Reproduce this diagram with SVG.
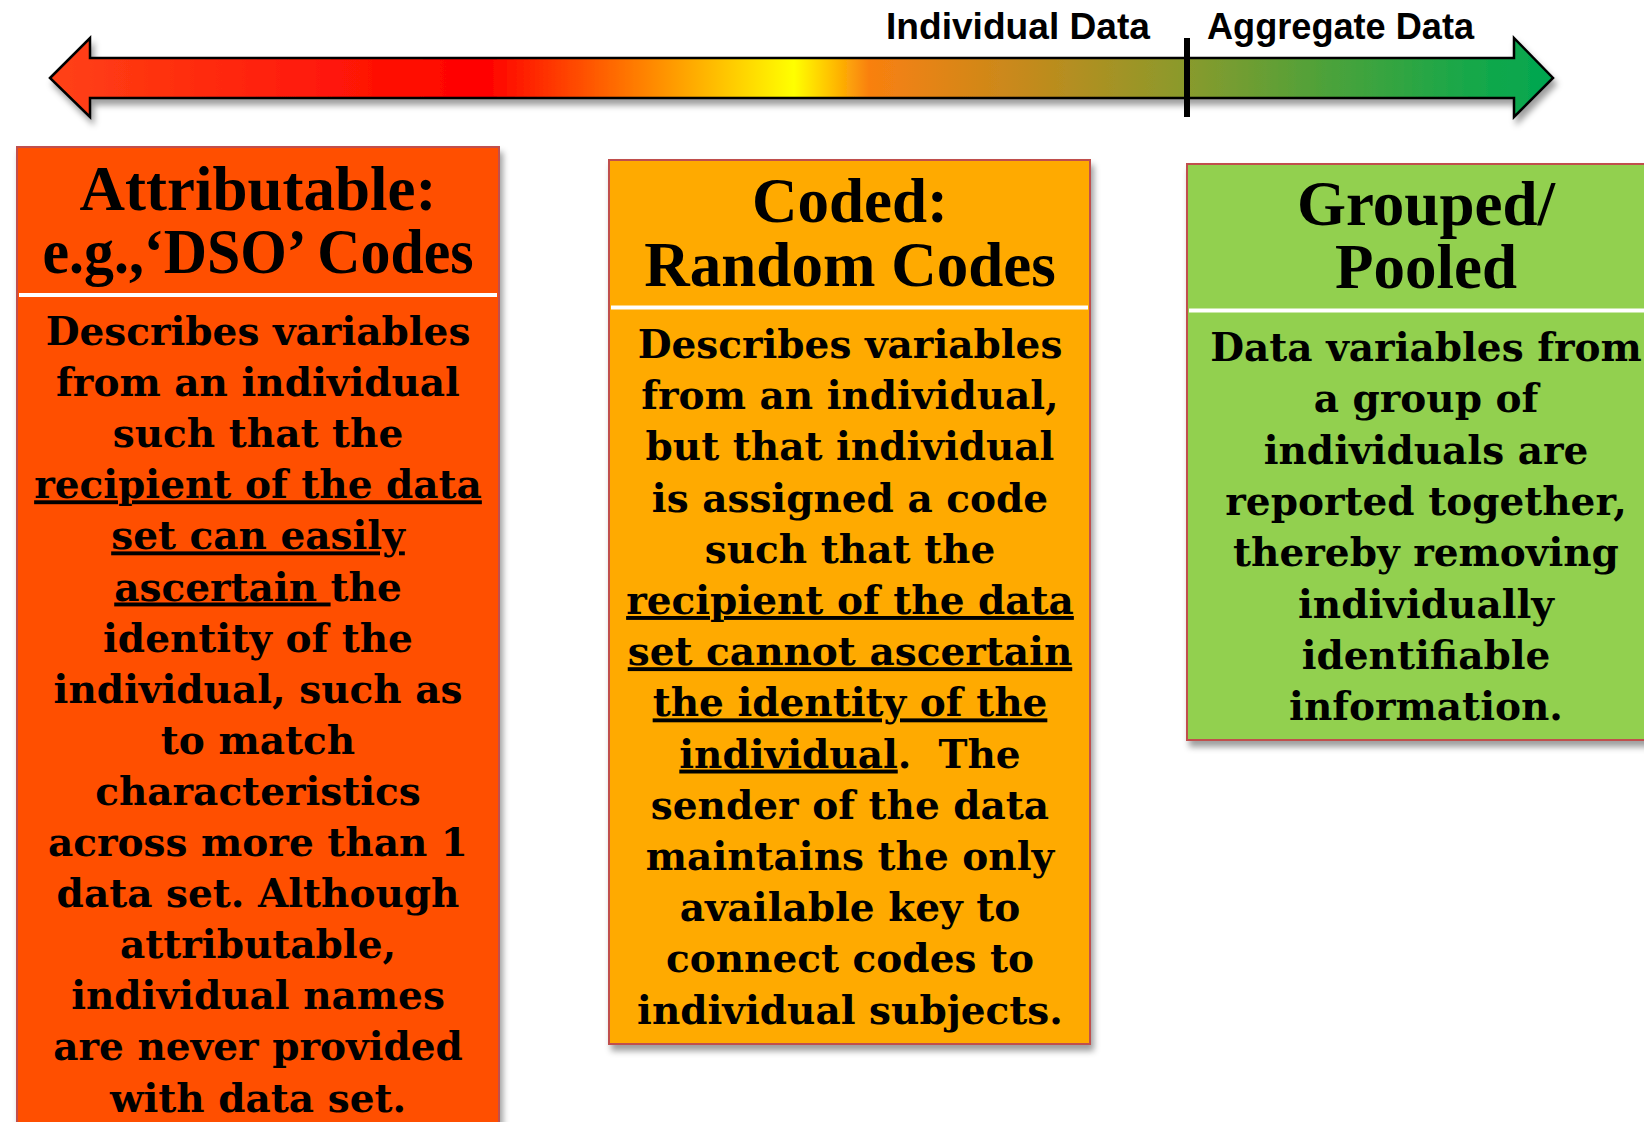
<svg xmlns="http://www.w3.org/2000/svg" width="1644" height="1122" viewBox="0 0 1644 1122">
<defs>
<linearGradient id="spectrum" gradientUnits="userSpaceOnUse" x1="50" y1="0" x2="1553" y2="0">
<stop offset="0" stop-color="#FF4215"/>
<stop offset="0.29" stop-color="#FF0000"/>
<stop offset="0.495" stop-color="#FFFF00"/>
<stop offset="0.52" stop-color="#FFC000"/>
<stop offset="0.545" stop-color="#F98010"/>
<stop offset="0.65" stop-color="#C48A1C"/>
<stop offset="0.755" stop-color="#8A9A2C"/>
<stop offset="0.85" stop-color="#4CA23A"/>
<stop offset="0.95" stop-color="#14A84A"/>
<stop offset="1" stop-color="#00A651"/>
</linearGradient>
<filter id="shadow" x="-5%" y="-5%" width="115%" height="140%">
<feDropShadow dx="3" dy="6" stdDeviation="3" flood-color="#000" flood-opacity="0.38"/>
</filter>
</defs>
<style>
.box{stroke:#C0504D;stroke-width:2}
.sep{stroke:#FFFFFF;stroke-width:4}
.hdr{font-family:'Liberation Serif','Times New Roman',serif;font-weight:bold;font-size:63px;text-anchor:middle;fill:#000}
.body{font-family:'DejaVu Serif',Georgia,serif;font-weight:bold;font-size:39px;text-anchor:middle;fill:#000}
.u{text-decoration:underline;text-decoration-thickness:3px}
.lbl{font-family:'Liberation Sans',Arial,sans-serif;font-weight:bold;font-size:36px;fill:#000}
</style>

<g id="spectrum-arrow">
<path d="M50,78 L90,38 L90,58 L1514,58 L1514,38 L1553,78 L1514,117 L1514,98 L90,98 L90,117 Z" fill="url(#spectrum)" stroke="#000" stroke-width="2.5" stroke-linejoin="miter" filter="url(#shadow)"/>
<rect x="1184" y="38" width="6" height="79" fill="#000"/>
<text class="lbl" x="886" y="39" textLength="264" lengthAdjust="spacingAndGlyphs">Individual Data</text>
<text class="lbl" x="1207" y="39" textLength="267" lengthAdjust="spacingAndGlyphs">Aggregate Data</text>
</g>

<g id="attributable">
<rect class="box" x="17" y="147" width="482" height="1000" fill="#FF4F00" filter="url(#shadow)"/>
<line class="sep" x1="19" y1="295" x2="497" y2="295"/>
<text class="hdr" x="258" y="210">Attributable:</text>
<text class="hdr" x="258" y="273" textLength="431" lengthAdjust="spacingAndGlyphs">e.g.,‘DSO’ Codes</text>
<text class="body" x="258" y="345">Describes variables</text>
<text class="body" x="258" y="396.1">from an individual</text>
<text class="body" x="258" y="447.2">such that the</text>
<text class="body" x="258" y="498.3"><tspan class="u">recipient of the data</tspan></text>
<text class="body" x="258" y="549.4"><tspan class="u">set can easily</tspan></text>
<text class="body" x="258" y="600.5"><tspan class="u">ascertain </tspan>the</text>
<text class="body" x="258" y="651.6">identity of the</text>
<text class="body" x="258" y="702.7">individual, such as</text>
<text class="body" x="258" y="753.8">to match</text>
<text class="body" x="258" y="804.9">characteristics</text>
<text class="body" x="258" y="856">across more than 1</text>
<text class="body" x="258" y="907.1">data set. Although</text>
<text class="body" x="258" y="958.2">attributable,</text>
<text class="body" x="258" y="1009.3">individual names</text>
<text class="body" x="258" y="1060.4">are never provided</text>
<text class="body" x="258" y="1111.5">with data set.</text>
</g>

<g id="coded">
<rect class="box" x="609" y="160" width="481" height="884" fill="#FFAA00" filter="url(#shadow)"/>
<line class="sep" x1="611" y1="307.5" x2="1088" y2="307.5"/>
<text class="hdr" x="850" y="222">Coded:</text>
<text class="hdr" x="850" y="286">Random Codes</text>
<text class="body" x="850" y="358">Describes variables</text>
<text class="body" x="850" y="409.2">from an individual,</text>
<text class="body" x="850" y="460.4">but that individual</text>
<text class="body" x="850" y="511.6">is assigned a code</text>
<text class="body" x="850" y="562.8">such that the</text>
<text class="body" x="850" y="614"><tspan class="u">recipient of the data</tspan></text>
<text class="body" x="850" y="665.2"><tspan class="u">set cannot ascertain</tspan></text>
<text class="body" x="850" y="716.4"><tspan class="u">the identity of the</tspan></text>
<text class="body" x="850" y="767.6"><tspan class="u">individual</tspan>. &#160;The</text>
<text class="body" x="850" y="818.8">sender of the data</text>
<text class="body" x="850" y="870">maintains the only</text>
<text class="body" x="850" y="921.2">available key to</text>
<text class="body" x="850" y="972.4">connect codes to</text>
<text class="body" x="850" y="1023.6">individual subjects.</text>
</g>

<g id="grouped">
<rect class="box" x="1187" y="164" width="482" height="576" fill="#92D050" filter="url(#shadow)"/>
<line class="sep" x1="1189" y1="310.5" x2="1667" y2="310.5"/>
<text class="hdr" x="1426" y="225">Grouped/</text>
<text class="hdr" x="1426" y="288">Pooled</text>
<text class="body" x="1426" y="361">Data variables from</text>
<text class="body" x="1426" y="412.3">a group of</text>
<text class="body" x="1426" y="463.6">individuals are</text>
<text class="body" x="1426" y="514.9">reported together,</text>
<text class="body" x="1426" y="566.2">thereby removing</text>
<text class="body" x="1426" y="617.5">individually</text>
<text class="body" x="1426" y="668.8">identifiable</text>
<text class="body" x="1426" y="720.1">information.</text>
</g>
</svg>
